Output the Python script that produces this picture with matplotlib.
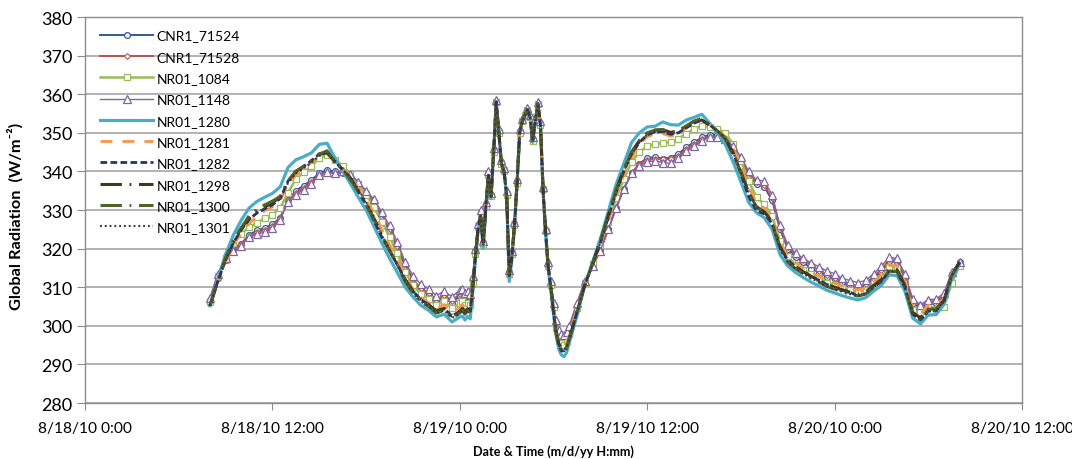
import numpy as np
import matplotlib
matplotlib.use("Agg")
import matplotlib.pyplot as plt
from datetime import datetime, timedelta

plt.rcParams['font.family'] = ['Lato', 'DejaVu Sans']

# ---------------- data ----------------
start_time = datetime(2010, 8, 18, 8, 0)
# minutes after start: 30-min samples, 10-min samples through the spiky period
minutes = np.concatenate([np.arange(0, 961, 30), np.arange(970, 1381, 10), np.arange(1410, 2881, 30)])

# reference level read from the dark (NR01_1282) trace, W/m^2
base_values = (
    [305.2, 311.5, 317, 321.5, 324.8, 327.5, 329.2, 330.3, 331.3, 333,
     337, 339.5, 340.8, 342.3, 344, 344.8, 342.5, 340.5, 338.3, 335.3,
     332, 328.3, 324, 320, 316.3, 312, 309, 306.8, 305.5, 303.8,
     304.5, 302.5, 303.8]
    + [304.5, 303.5, 304.4, 303.8, 310, 318, 325, 328.5, 321, 331,
       339, 333.5, 345, 358, 350, 342, 340, 334, 313, 318,
       326, 337, 350, 353, 354.5, 356, 354, 348, 353, 357.5,
       352, 335, 324, 315, 310, 304, 298.5, 295.5, 294, 293.5,
       294.5, 296.5]
    + [303.5, 310.5, 316, 321.5, 328, 334.5, 340, 344.5, 347.5, 349.5,
       350.2, 350.3, 349.6, 350, 351.3, 352.5, 353.3, 352, 350.5, 348.5,
       345, 340.3, 335, 331.3, 330, 327, 320.5, 317, 315.3, 314,
       312.8, 311.8, 310.7, 310, 309.3, 308.7, 308.2, 308.8, 310.5, 312,
       314.7, 314.5, 310.5, 303.5, 302, 304.3, 304.4, 306.5, 313, 316.5]
)

# per-sensor departure from the reference trace (W/m^2)
dev_cnr1_71524 = (
    [1.5, 1, 0, -1.5, -3.5, -4, -4.5, -5, -5, -5,
     -4.5, -4.5, -4.5, -4.5, -4.5, -4.5, -2.5, -1, 0.5, 1.5,
     2.5, 3.5, 4.5, 4.5, 4, 3.5, 3, 2.5, 2.5, 2.5,
     3, 3.5, 4]
    + [3.5, 3.5, 3, 3, 2, 1.5, 1, 1, 0.5, 0.5,
       0.5, 0.5, 0.5, 0, 0.5, 0.5, 0.5, 0.5, 1, 1,
       0.5, 0.5, 0.5, 0, 0, 0, 0, 0.5, 0, 0,
       0.5, 0.5, 0.5, 1, 1, 1.5, 2, 2.5, 2.5, 2.5,
       2.5, 2]
    + [1.5, 0.5, -0.5, -2, -3, -4, -4.5, -5, -5.5, -6,
       -6.5, -7, -6, -5.5, -5, -5, -4.5, -2.5, -1, 0,
       1.5, 2.5, 4, 5.5, 6, 5.5, 4.5, 3, 2.5, 2.5,
       2, 2, 2, 2, 2, 1.5, 1.5, 1.5, 2, 2,
       2, 2, 2, 2.5, 2.5, 1.5, 1.5, 1, 0.5, 0]
)
dev_cnr1_71528 = (
    [1.5, 1.5, 0, -2, -3.5, -4.5, -5, -5.5, -5.5, -5,
     -4.5, -5, -5, -5, -5, -5, -3, -1, 0.5, 1.5,
     2.5, 4, 5, 5, 4.5, 4, 3, 3, 3, 3,
     3.5, 4, 4.5]
    + [4, 4, 3.5, 3.5, 2.5, 1.5, 1, 1, 1, 0.5,
       0.5, 0.5, 0.5, 0, 0.5, 0.5, 0.5, 0.5, 1, 1,
       1, 0.5, 0.5, 0, 0, 0, 0, 0.5, 0, 0,
       0.5, 0.5, 0.5, 1, 1, 1.5, 2.5, 3, 3, 3,
       3, 2.5]
    + [2, 1, -0.5, -2, -3, -4, -4.5, -5, -5.5, -6.5,
       -7, -7, -6.5, -6, -5.5, -5.5, -5, -3, -1.5, 0,
       1.5, 3, 4.5, 6, 6.5, 6, 5, 3.5, 3, 3,
       3, 2.5, 2.5, 2.5, 2.5, 2, 2, 2, 2.5, 2.5,
       2.5, 2.5, 2.5, 3, 3, 2, 2, 1.5, 0.5, 0]
)
dev_nr01_1084 = (
    [1, 1.5, 0.5, 0, -1, -2, -2.5, -2.5, -2.5, -2.5,
     -2.5, -1.5, -1, -1, -0.5, -0.5, 0.5, 1, 1, 1.5,
     2, 2.5, 3, 3, 2.5, 2, 1.5, 1.5, 1.5, 1.5,
     2, 2, 2]
    + [2, 2, 1.5, 1.5, 1, 0.5, 0.5, 0.5, 0, 0,
       0, 0, 0, 0, 0, 0, 0, 0, 0.5, 0.5,
       0, 0, 0, 0, 0, 0, 0, 0, 0, 0,
       0, 0.5, 0.5, 0.5, 0.5, 1, 1, 1.5, 1.5, 1.5,
       1.5, 1.5]
    + [1, 0.5, 0, -0.5, -1, -1.5, -2, -2, -2.5, -3,
       -3, -3, -2, -1.5, -1.5, -1.5, -1.5, -0.5, 0.5, 1.5,
       2, 2.5, 2.5, 2, 1.5, 1.5, 1.5, 1, 0.5, 0.5,
       0.5, 0.5, 0.5, 0.5, 0.5, 0.5, 0.5, 0.5, 0.5, 0.5,
       0.5, 0.5, 0.5, 0.5, 1.5, 1, 0, -1.5, -2, -1]
)
dev_nr01_1148 = (
    [2, 2, 0.5, -2, -4, -4.5, -5.5, -6, -6, -5.5,
     -5, -5.5, -5.5, -5.5, -5, -5, -3, -0.5, 1, 2,
     3, 4.5, 5.5, 6, 5.5, 4.5, 4, 4, 4, 4,
     4.5, 5, 5.5]
    + [5, 5, 4.5, 4.5, 3, 2, 1.5, 1.5, 1, 1,
       1, 1, 1, 0.5, 1, 1, 1, 1, 1.5, 1.5,
       1, 1, 1, 0.5, 0.5, 0.5, 0.5, 1, 0.5, 0.5,
       1, 1, 1, 1.5, 1.5, 2, 3, 3.5, 4, 4,
       4, 3.5]
    + [2.5, 1, -0.5, -2, -3, -4, -4.5, -5, -6, -7,
       -7.5, -8, -7.5, -6.5, -6, -6, -5.5, -3, -1.5, 0,
       1.5, 3.5, 5, 6.5, 7.5, 7, 5.5, 4, 3.5, 3.5,
       3.5, 3.5, 3.5, 3.5, 3, 3, 3, 3, 3, 3.5,
       3, 3, 3, 3.5, 3.5, 2.5, 2.5, 2, 1, 0]
)
dev_nr01_1280 = (
    [0, 0.5, 1.5, 2, 2.5, 3, 3, 3, 3, 3,
     4, 3.5, 3, 2.5, 3, 2.5, 1, -0.5, -1.5, -2,
     -2, -2.5, -2.5, -2.5, -2.5, -2, -1.5, -1.5, -1.5, -1.5,
     -1.5, -1.5, -1.5]
    + [-2, -2, -2, -2, -1, -1, -0.5, -0.5, -1, -0.5,
       -0.5, -0.5, 0, 0, 0, 0, 0, -0.5, -1.5, -1,
       -0.5, 0, 0, 0, 0, 0, 0, -0.5, 0, 0,
       0, 0, -0.5, -0.5, -1, -1, -1, -1.5, -1.5, -1.5,
       -1.5, -1]
    + [-1, 0, 0.5, 1, 1.5, 2, 2, 3, 2.5, 2,
       1.5, 2.5, 2.5, 2, 2, 1.5, 1.5, 0.5, -0.5, -1.5,
       -2.5, -3, -3, -2, -2, -2, -2, -1.5, -1.5, -1.5,
       -1.5, -1.5, -1.5, -1.5, -1.5, -1.5, -1.5, -1.5, -1.5, -1.5,
       -1.5, -1.5, -1.5, -1.5, -1.5, -1.5, -1.5, -1, -1, -0.5]
)
dev_nr01_1281 = (
    [0, 0, -0.5, -0.5, -1, -1, -1, -0.5, -0.5, -0.5,
     -0.5, -0.5, 0, 0, 0, 0, 0, 0, 0.5, 0.5,
     0.5, 1, 1, 1, 1, 1, 0.5, 0.5, 0.5, 0.5,
     1, 1, 1]
    + [1, 1, 1, 1, 0.5, 0.5, 0, 0, 0, 0,
       0, 0, 0, 0, 0, 0, 0, 0, 0, 0,
       0, 0, 0, 0, 0, 0, 0, 0, 0, 0,
       0, 0, 0, 0, 0, 0.5, 0.5, 0.5, 1, 1,
       1, 1]
    + [0.5, 0, 0, -0.5, -0.5, -0.5, -1, -1, -0.5, -0.5,
       -0.5, -0.5, -0.5, -0.5, 0, 0, 0, 0, 0.5, 0.5,
       1, 1, 1, 0.5, 0.5, 0.5, 1, 1, 1, 1,
       1, 1, 1, 1, 1, 1, 1, 1, 1, 1,
       1, 1, 1, 1, 1, 1, 1, 0.5, 0, 0]
)
dev_nr01_1282 = (
    [0, 0, 0, 0, 0, 0, 0, 0, 0, 0,
     0.5, 0.5, 0.5, 0.5, 0.5, 0.5, 0, 0, 0, -0.5,
     -0.5, -1, -1, -0.5, -0.5, 0, 0, 0, 0, 0,
     0, 0, 0]
    + [0, 0, 0, 0, 0, 0, 0, 0, 0, 0,
       0, 0, 0, 0, 0, 0, 0, 0, 0, 0,
       0, 0, 0, 0, 0, 0, 0, 0, 0, 0,
       0, 0, 0, 0, 0, -0.5, -0.5, -0.5, -0.5, 0,
       0, 0]
    + [0, 0, 0, 0, 0, 0, 0, 0, 0, 0,
       0, 0, 0, 0, 0, 0, 0, 0, 0, 0,
       0, -1, -1.5, -1.5, -1, -0.5, 0, 0, 0, 0,
       0, 0, 0, 0, 0, 0, -0.5, -0.5, -0.5, -0.5,
       -0.5, -0.5, -0.5, -0.5, -0.5, -0.5, -0.5, 0, 0, 0]
)
dev_nr01_1298 = (
    [0, 0, 0.5, 0.5, 0.5, 0.5, 0.5, 0.5, 0.5, 0.5,
     0.5, 0.5, 0.5, 0.5, 0.5, 0, 0, 0, 0, -0.5,
     -0.5, -0.5, -0.5, -0.5, -0.5, 0, 0, 0, 0, 0,
     0, 0, 0]
    + [0, 0, 0, 0, 0, 0, 0, 0, 0, 0,
       0, 0, 0, 0, 0, 0, 0, 0, 0, 0,
       0, 0, 0, 0, 0, 0, 0, 0, 0, 0,
       0, 0, 0, 0, 0, 0, 0, 0, 0, 0,
       0, 0]
    + [0, 0, 0, 0.5, 0.5, 0.5, 0.5, 0.5, 0.5, 0.5,
       0.5, 0.5, 0.5, 0.5, 0.5, 0.5, 0, 0, 0, 0,
       -0.5, -0.5, -0.5, -0.5, -0.5, 0, 0, 0, 0, 0,
       0, 0, 0, 0, 0, 0, 0, 0, 0, 0,
       0, 0, 0, 0, 0, 0, 0, 0, 0, 0]
)
dev_nr01_1300 = (
    [0, 0, 0.5, 0.5, 0.5, 1, 1, 1, 1, 0.5,
     0.5, 0.5, 0.5, 0.5, 0.5, 0.5, 0, 0, -0.5, -0.5,
     -0.5, -0.5, -0.5, -0.5, -0.5, -0.5, -0.5, -0.5, -0.5, -0.5,
     -0.5, -0.5, -0.5]
    + [-0.5, -0.5, -0.5, -0.5, 0, 0, 0, 0, 0, 0,
       0, 0, 0, 0, 0, 0, 0, 0, 0, 0,
       0, 0, 0, 0, 0, 0, 0, 0, 0, 0,
       0, 0, 0, 0, 0, 0, -0.5, -0.5, -0.5, -0.5,
       -0.5, 0]
    + [0, 0, 0, 0.5, 0.5, 0.5, 0.5, 0.5, 0.5, 0.5,
       0.5, 0.5, 0.5, 0.5, 0.5, 0.5, 0.5, 0, 0, 0,
       -0.5, -0.5, -0.5, -0.5, -0.5, -0.5, -0.5, -0.5, -0.5, -0.5,
       -0.5, -0.5, -0.5, -0.5, -0.5, -0.5, -0.5, -0.5, -0.5, -0.5,
       -0.5, -0.5, -0.5, -0.5, -0.5, 0, 0, 0, 0, 0]
)
dev_nr01_1301 = (
    [0, 0, 0, 0, 0, 0, 0, 0, 0, 0,
     0, 0, 0, 0, 0, 0, 0, 0, 0, 0,
     0, 0, -0.5, -0.5, -0.5, -0.5, -0.5, -0.5, -0.5, -0.5,
     -0.5, -0.5, -0.5]
    + [-0.5, -0.5, -0.5, 0, 0, 0, 0, 0, 0, 0,
       0, 0, 0, 0, 0, 0, 0, 0, 0, 0,
       0, 0, 0, 0, 0, 0, 0, 0, 0, 0,
       0, 0, 0, 0, 0, 0, 0, 0, 0, 0,
       0, 0]
    + [0, 0, 0, 0, 0, 0, 0, 0, 0, 0,
       0, 0, 0, 0, 0, 0, 0, 0, 0, 0,
       0, -0.5, -0.5, -0.5, -0.5, -0.5, -0.5, -0.5, -0.5, -0.5,
       -0.5, -0.5, -0.5, -0.5, -0.5, -0.5, -0.5, -0.5, -0.5, -0.5,
       -0.5, -0.5, -0.5, -0.5, -0.5, -0.5, -0.5, 0, 0, 0]
)

series_names = ["CNR1_71524", "CNR1_71528", "NR01_1084", "NR01_1148", "NR01_1280",
                "NR01_1281", "NR01_1282", "NR01_1298", "NR01_1300", "NR01_1301"]
series_devs = [dev_cnr1_71524, dev_cnr1_71528, dev_nr01_1084, dev_nr01_1148, dev_nr01_1280,
               dev_nr01_1281, dev_nr01_1282, dev_nr01_1298, dev_nr01_1300, dev_nr01_1301]

x_tick_labels = ["8/18/10 0:00", "8/18/10 12:00", "8/19/10 0:00",
                 "8/19/10 12:00", "8/20/10 0:00", "8/20/10 12:00"]
y_ticks = [280, 290, 300, 310, 320, 330, 340, 350, 360, 370, 380]

lengths = [len(minutes), len(base_values)] + [len(d) for d in series_devs]
if len(set(lengths)) != 1:
    raise ValueError("length mismatch: %s" % lengths)

# ---------------- styles ----------------
styles = [
    dict(color='#2F5C9E', lw=1.4, marker='o', ms=4.2, mfc='white', mew=0.9),
    dict(color='#C0504D', lw=1.4, marker='D', ms=3.0, mfc='white', mew=0.8),
    dict(color='#9BBB59', lw=1.8, marker='s', ms=4.8, mfc='white', mew=0.9),
    dict(color='#8064A2', lw=1.0, marker='^', ms=5.2, mfc='white', mew=0.9),
    dict(color='#4BACC6', lw=2.3),
    dict(color='#F79646', lw=2.0, dashes=(4.3, 3.6)),
    dict(color='#1F3864', lw=2.0, dashes=(2.4, 1.2)),
    dict(color='#3D3A1C', lw=2.2, dashes=(7.0, 2.5, 0.6, 2.5)),
    dict(color='#4F6228', lw=2.2, dashes=(7.0, 2.5, 0.6, 2.5)),
    dict(color='#3F3151', lw=1.5, dashes=(0.9, 1.4)),
]

times = [start_time + timedelta(minutes=int(m)) for m in minutes]
base = np.array(base_values)

W, H = 1072, 460
fig = plt.figure(figsize=(W / 100, H / 100), dpi=100)
ax = fig.add_axes([85 / W, 1 - 404 / H, (1022 - 85) / W, (404 - 18) / H])

for name, dev, st in zip(series_names, series_devs, styles):
    ax.plot(times, base + np.array(dev), label=name, **st)

x_ticks = [datetime.strptime(s, "%m/%d/%y %H:%M") for s in x_tick_labels]
ax.set_xlim(x_ticks[0], x_ticks[-1])
ax.set_xticks(x_ticks)
ax.set_xticklabels(x_tick_labels, fontsize=11.2)
ax.set_ylim(y_ticks[0], y_ticks[-1])
ax.set_yticks(y_ticks)
ax.set_yticklabels([str(v) for v in y_ticks], fontsize=13)

ax.yaxis.grid(True, color='#A6A6A6', lw=1.2)
ax.set_axisbelow(True)
for s in ax.spines.values():
    s.set_color('#8C8C8C')
    s.set_linewidth(1.0)
ax.tick_params(axis='y', length=6, color='#8C8C8C', pad=3)
ax.tick_params(axis='x', length=5, color='#8C8C8C', pad=8)

ax.set_ylabel('Global Radiation  (W/m\u207b\u00b2)', fontsize=11.8, fontweight='bold')
ax.yaxis.set_label_coords(-0.066, 0.485)
ax.set_xlabel('Date & Time (m/d/yy H:mm)', fontsize=9.1, fontweight='bold', labelpad=7)

leg = ax.legend(loc='upper left', bbox_to_anchor=(0.003, 1.0), frameon=False, fontsize=10,
                handlelength=3.8, handletextpad=0.25, labelspacing=0.67, numpoints=1,
                borderaxespad=0.3, borderpad=0.6)

fig.savefig('out.png', dpi=100)
